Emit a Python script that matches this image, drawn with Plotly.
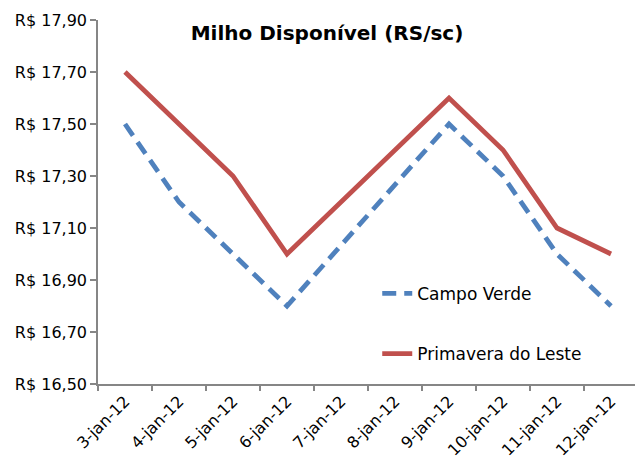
import plotly.graph_objects as go

dates = ["3-jan-12", "4-jan-12", "5-jan-12", "6-jan-12", "7-jan-12",
         "8-jan-12", "9-jan-12", "10-jan-12", "11-jan-12", "12-jan-12"]
campo_verde = [17.50, 17.20, 17.00, 16.80, None, None, 17.50, 17.30, 17.00, 16.80]
primavera = [17.70, 17.50, 17.30, 17.00, None, None, 17.60, 17.40, 17.10, 17.00]
y_ticks = [16.5, 16.7, 16.9, 17.1, 17.3, 17.5, 17.7, 17.9]
y_ticktext = ["R$ " + f"{v:.2f}".replace(".", ",") for v in y_ticks]

FONT = "'DejaVu Sans', sans-serif"

fig = go.Figure()
fig.add_trace(go.Scatter(
    x=dates, y=campo_verde, name="Campo Verde", mode="lines",
    connectgaps=True, legendgroup="a",
    line=dict(color="#4F81BD", width=4.8, dash="14px,8px"),
))
fig.add_trace(go.Scatter(
    x=dates, y=primavera, name="Primavera do Leste", mode="lines",
    connectgaps=True, legendgroup="b",
    line=dict(color="#C0504D", width=4.8),
))

fig.update_layout(
    width=635, height=468,
    margin=dict(l=98, r=0, t=20, b=84),
    paper_bgcolor="white", plot_bgcolor="white",
    font=dict(family=FONT, size=16, color="#000000"),
    title=dict(text="<b>Milho Disponível (RS/sc)</b>", x=0.515, xanchor="center",
               y=1 - 33 / 468, yanchor="middle",
               font=dict(family=FONT, size=20, color="#000000")),
    showlegend=True,
    legend=dict(x=0.52, y=0.297, xanchor="left", yanchor="top",
                bgcolor="rgba(0,0,0,0)", tracegroupgap=35,
                font=dict(family=FONT, size=17, color="#000000")),
    xaxis=dict(
        type="category", range=[-0.5, 9.444],
        showline=True, linecolor="#868686", linewidth=1.5,
        ticks="outside", ticklen=5, tickcolor="#868686", tickwidth=1.5,
        tickson="boundaries", tickangle=-45, showgrid=False, zeroline=False,
        tickfont=dict(family=FONT, size=16, color="#000000"),
    ),
    yaxis=dict(
        range=[16.5, 17.9], tickvals=y_ticks, ticktext=y_ticktext,
        showline=True, linecolor="#868686", linewidth=1.5,
        ticks="outside", ticklen=6, tickcolor="#868686", tickwidth=1.5,
        showgrid=False, zeroline=False,
        tickfont=dict(family=FONT, size=16, color="#000000"),
    ),
)

fig.write_html("out.html", config={"displayModeBar": False},
               post_script="document.body.style.margin='0px';")
